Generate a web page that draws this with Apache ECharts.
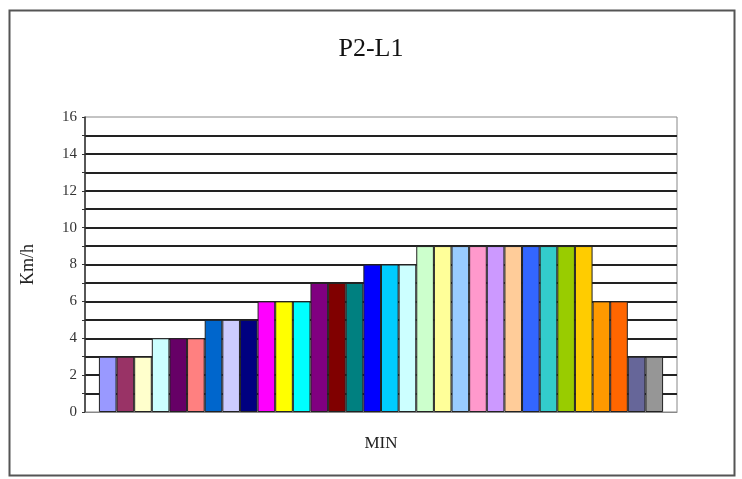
<!DOCTYPE html>
<html>
<head>
<meta charset="utf-8">
<script src="https://cdn.jsdelivr.net/npm/echarts@6/dist/echarts.min.js"></script>
<style>
  html, body { margin: 0; padding: 0; background: #fff; }
  #container { width: 742px; height: 479px; }
</style>
</head>
<body>
<div id="container"></div>
<script>
var dom = document.getElementById("container");
var myChart = echarts.init(dom);

// one bar per minute, coloured like the old Excel palette
var values = [3, 3, 3, 4, 4, 4, 5, 5, 5, 6, 6, 6, 7, 7, 7, 8, 8, 8,
              9, 9, 9, 9, 9, 9, 9, 9, 9, 9, 6, 6, 3, 3];
var colors = ['#9999FF', '#993366', '#FFFFCC', '#CCFFFF', '#660066', '#FF8080',
              '#0066CC', '#CCCCFF', '#000080', '#FF00FF', '#FFFF00', '#00FFFF',
              '#800080', '#800000', '#008080', '#0000FF', '#00CCFF', '#CCFFFF',
              '#CCFFCC', '#FFFF99', '#99CCFF', '#FF99CC', '#CC99FF', '#FFCC99',
              '#3366FF', '#33CCCC', '#99CC00', '#FFCC00', '#FF9900', '#FF6600',
              '#666699', '#969696'];
var yTicks = [0, 2, 4, 6, 8, 10, 12, 14, 16];

var serif = "'Liberation Serif', 'DejaVu Serif', serif";

var series = values.map(function (v, i) {
    return {
        name: 'S' + (i + 1),
        type: 'bar',
        data: [v],
        barGap: '0%',
        barCategoryGap: '4.7%',
        itemStyle: { color: colors[i], borderColor: '#222', borderWidth: 1 }
    };
});

option = {
    animation: false,
    title: {
        text: 'P2-L1',
        left: 'center',
        top: 31,
        textStyle: { fontFamily: serif, fontSize: 26, fontWeight: 'normal', color: '#111' }
    },
    graphic: [{
        type: 'rect',
        shape: { x: 9.5, y: 10.5, width: 725, height: 465 },
        style: { fill: null, stroke: '#555', lineWidth: 2 },
        silent: true
    }],
    grid: {
        left: 85,
        right: 65,
        top: 117,
        bottom: 67,
        show: true,
        borderColor: '#888',
        borderWidth: 1
    },
    xAxis: {
        type: 'category',
        data: ['MIN'],
        name: 'MIN',
        nameLocation: 'middle',
        nameGap: 23,
        nameTextStyle: { fontFamily: serif, fontSize: 17, color: '#222' },
        axisLine: { lineStyle: { color: '#888' } },
        axisTick: { show: false },
        axisLabel: { show: false }
    },
    yAxis: {
        type: 'value',
        min: 0,
        max: 16,
        interval: 1,
        name: 'Km/h',
        nameLocation: 'middle',
        nameGap: 48,
        nameRotate: 90,
        nameTextStyle: { fontFamily: serif, fontSize: 18, color: '#222' },
        axisLine: { show: true, lineStyle: { color: '#333', width: 1.5 } },
        axisTick: { show: true, length: 3, lineStyle: { color: '#333' } },
        axisLabel: {
            fontFamily: serif,
            fontSize: 15,
            color: '#333',
            margin: 8,
            formatter: function (v) { return yTicks.indexOf(v) >= 0 ? String(v) : ''; }
        },
        splitLine: {
            show: true,
            showMinLine: false,
            showMaxLine: false,
            lineStyle: { color: '#222', width: 1.8 }
        }
    },
    series: series
};

if (option && typeof option === "object") {
    myChart.setOption(option, true);
}
</script>
</body>
</html>
